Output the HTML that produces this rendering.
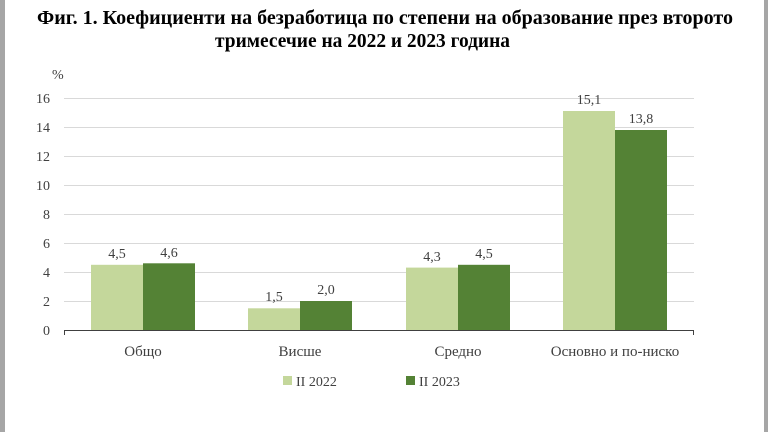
<!DOCTYPE html>
<html><head><meta charset="utf-8"><style>
html,body{margin:0;padding:0;background:#fff;}
svg{display:block;}
text{font-family:"Liberation Serif",serif;}
</style></head><body>
<svg width="768" height="432" xmlns="http://www.w3.org/2000/svg">
<rect x="0" y="0" width="768" height="432" fill="#fff"/>
<rect x="0" y="0" width="5" height="432" fill="#a6a6a6"/>
<rect x="764" y="0" width="4" height="432" fill="#a6a6a6"/>
<text x="37" y="24" font-size="20" font-weight="bold" textLength="696" lengthAdjust="spacingAndGlyphs" fill="#000">Фиг. 1. Коефициенти на безработица по степени на образование през второто</text>
<text x="215" y="47" font-size="20" font-weight="bold" textLength="295" lengthAdjust="spacingAndGlyphs" fill="#000">тримесечие на 2022 и 2023 година</text>
<g stroke="#d9d9d9" stroke-width="1">
<line x1="64" x2="694" y1="98.5" y2="98.5"/>
<line x1="64" x2="694" y1="127.5" y2="127.5"/>
<line x1="64" x2="694" y1="156.5" y2="156.5"/>
<line x1="64" x2="694" y1="185.5" y2="185.5"/>
<line x1="64" x2="694" y1="214.5" y2="214.5"/>
<line x1="64" x2="694" y1="243.5" y2="243.5"/>
<line x1="64" x2="694" y1="272.5" y2="272.5"/>
<line x1="64" x2="694" y1="301.5" y2="301.5"/>
</g>
<g font-size="14" fill="#404040" text-anchor="end">
<text x="50" y="103">16</text><text x="50" y="132">14</text><text x="50" y="161">12</text>
<text x="50" y="190">10</text><text x="50" y="219">8</text><text x="50" y="248">6</text>
<text x="50" y="277">4</text><text x="50" y="306">2</text><text x="50" y="335">0</text>
</g>
<text x="52" y="79" font-size="14" fill="#404040">%</text>
<g fill="#c4d79b">
<rect x="91" y="264.8" width="52" height="65.2"/>
<rect x="248" y="308.3" width="52" height="21.7"/>
<rect x="406" y="267.6" width="52" height="62.4"/>
<rect x="563" y="111" width="52" height="219"/>
</g>
<g fill="#548235">
<rect x="143" y="263.3" width="52" height="66.7"/>
<rect x="300" y="301" width="52" height="29"/>
<rect x="458" y="264.8" width="52" height="65.2"/>
<rect x="615" y="130" width="52" height="200"/>
</g>
<line x1="64" x2="694" y1="330.5" y2="330.5" stroke="#404040" stroke-width="1"/>
<line x1="64.5" x2="64.5" y1="330" y2="335" stroke="#404040"/>
<line x1="693.5" x2="693.5" y1="330" y2="335" stroke="#404040"/>
<g font-size="14" fill="#404040" text-anchor="middle">
<text x="117" y="258">4,5</text><text x="169" y="257">4,6</text>
<text x="274" y="301">1,5</text><text x="326" y="294">2,0</text>
<text x="432" y="261">4,3</text><text x="484" y="258">4,5</text>
<text x="589" y="104">15,1</text><text x="641" y="123">13,8</text>
</g>
<g font-size="15" fill="#404040" text-anchor="middle">
<text x="143" y="356">Общо</text><text x="300" y="356">Висше</text>
<text x="458" y="356">Средно</text><text x="615" y="356">Основно и по-ниско</text>
</g>
<rect x="283" y="376" width="9" height="9" fill="#c4d79b"/>
<text x="296" y="386" font-size="14" fill="#404040">II 2022</text>
<rect x="406" y="376" width="9" height="9" fill="#548235"/>
<text x="419" y="386" font-size="14" fill="#404040">II 2023</text>
</svg>
</body></html>
